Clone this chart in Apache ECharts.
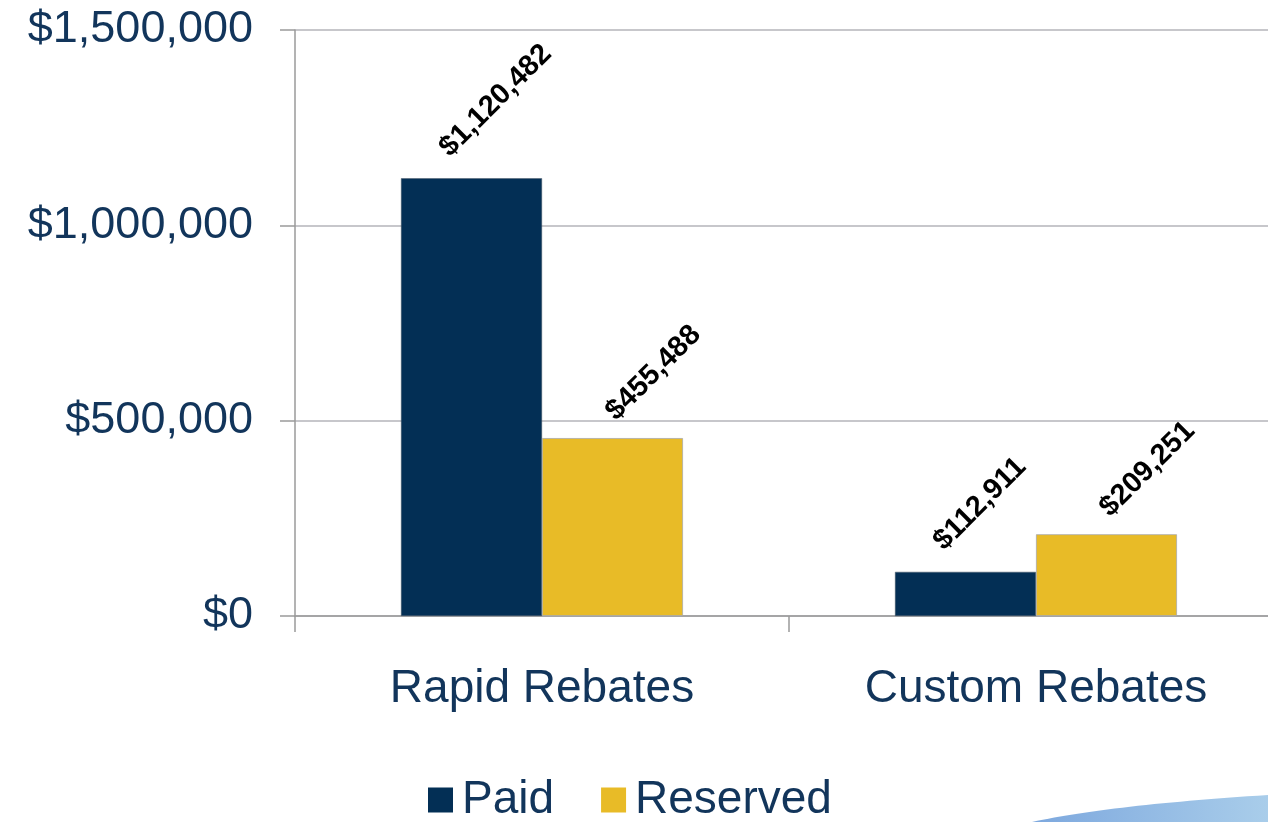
<!DOCTYPE html>
<html>
<head>
<meta charset="utf-8">
<script src="https://cdn.jsdelivr.net/npm/echarts@6/dist/echarts.min.js"></script>
<style>
  html, body { margin: 0; padding: 0; background: #ffffff; overflow: hidden; width: 1268px; height: 822px; }
  #chart { width: 1283px; height: 822px; }
</style>
</head>
<body>
<div id="chart"></div>
<script>
const categories = ['Rapid Rebates', 'Custom Rebates'];
const paidValues = [1120482, 112911];
const reservedValues = [455488, 209251];
const seriesNames = ['Paid', 'Reserved'];
const yTicks = [0, 500000, 1000000, 1500000];

const NAVY = '#032F55';
const GOLD = '#E8BB27';
const TEXT = '#12355B';
const FONT = '"Liberation Sans", Arial, Helvetica, sans-serif';

const money = v => '$' + Number(v).toLocaleString('en-US');

function swooshPoints() {
  const pts = [];
  const x0 = 1032, y0 = 822, cx = 1110, cy = 805, x1 = 1268, y1 = 795;
  for (let i = 0; i <= 30; i++) {
    const t = i / 30;
    pts.push([
      (1 - t) * (1 - t) * x0 + 2 * (1 - t) * t * cx + t * t * x1,
      (1 - t) * (1 - t) * y0 + 2 * (1 - t) * t * cy + t * t * y1
    ]);
  }
  pts.push([1268, 822]);
  return pts;
}

const labelCommon = {
  show: true,
  rotate: 45,
  align: 'left',
  verticalAlign: 'bottom',
  color: '#000000',
  fontFamily: FONT,
  fontWeight: 'bold',
  fontSize: 29,
  formatter: p => money(p.value)
};

const chart = echarts.init(document.getElementById('chart'), null, { renderer: 'canvas' });
chart.setOption({
  animation: false,
  backgroundColor: '#ffffff',
  grid: { left: 295, right: 0, top: 30, bottom: 206, containLabel: false },
  xAxis: {
    type: 'category',
    data: categories,
    axisLine: { show: true, lineStyle: { color: '#9A9A9A', width: 1.5 } },
    axisTick: { show: true, length: 16, lineStyle: { color: '#9A9A9A', width: 1.5 } },
    axisLabel: { color: TEXT, fontFamily: FONT, fontSize: 46, margin: 50 }
  },
  yAxis: {
    type: 'value',
    min: yTicks[0],
    max: yTicks[yTicks.length - 1],
    interval: yTicks[1] - yTicks[0],
    axisLine: { show: true, lineStyle: { color: '#9A9A9A', width: 1.5 } },
    axisTick: { show: true, length: 15, lineStyle: { color: '#9A9A9A', width: 1.5 } },
    splitLine: { show: true, lineStyle: { color: '#B4B4BA', width: 1.5 } },
    axisLabel: { color: TEXT, fontFamily: FONT, fontSize: 45, margin: 42, formatter: v => money(v) }
  },
  legend: {
    data: seriesNames,
    left: 423,
    top: 772,
    icon: 'rect',
    itemWidth: 25,
    itemHeight: 25,
    itemGap: 47,
    itemStyle: { borderWidth: 0 },
    textStyle: { color: TEXT, fontFamily: FONT, fontSize: 46, padding: [0, 0, 0, 4] }
  },
  graphic: [{
    type: 'polygon',
    silent: true,
    z: -1,
    shape: { points: swooshPoints() },
    style: {
      fill: new echarts.graphic.LinearGradient(0, 0, 1, 0, [
        { offset: 0, color: '#7DA8DE' },
        { offset: 1, color: '#A9CDEA' }
      ])
    }
  }],
  series: [
    {
      name: seriesNames[0],
      type: 'bar',
      data: paidValues,
      barWidth: 141,
      barGap: '0%',
      itemStyle: { color: NAVY, borderColor: '#4A5A6A', borderWidth: 0.5 },
      label: Object.assign({}, labelCommon, { position: ['38%', -16] })
    },
    {
      name: seriesNames[1],
      type: 'bar',
      data: reservedValues,
      barWidth: 141,
      barGap: '0%',
      itemStyle: { color: GOLD, borderColor: '#A9A9A9', borderWidth: 0.8 },
      label: Object.assign({}, labelCommon, { position: ['56%', -12] })
    }
  ]
});
</script>
</body>
</html>
